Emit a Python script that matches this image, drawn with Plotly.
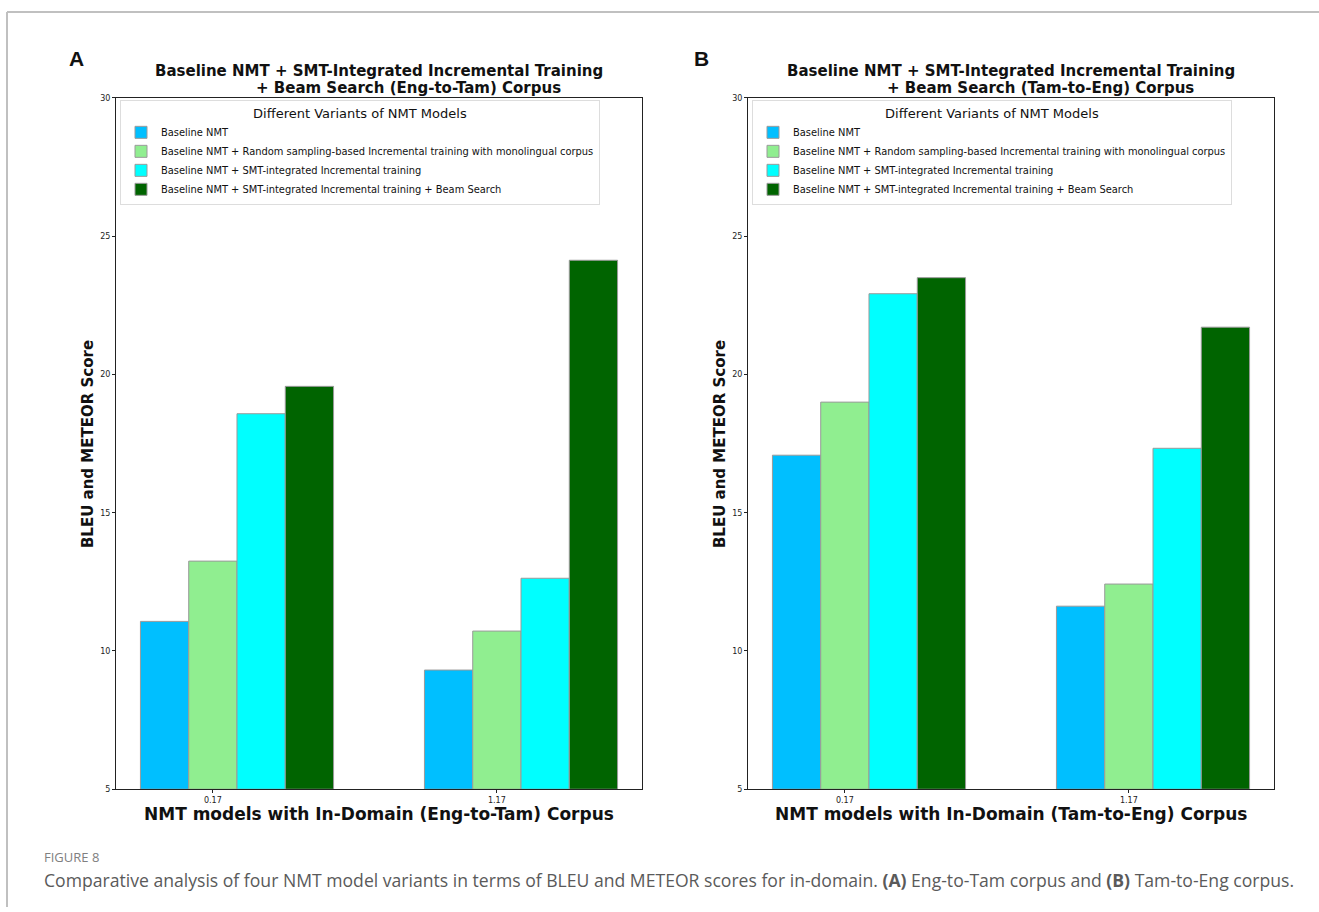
import plotly.graph_objects as go

# ---- data -------------------------------------------------------------
variants = [
    "Baseline NMT",
    "Baseline NMT + Random sampling-based Incremental training with monolingual corpus",
    "Baseline NMT + SMT-integrated Incremental training",
    "Baseline NMT + SMT-integrated Incremental training + Beam Search",
]
colors = ["#00BFFF", "#90EE90", "#00FFFF", "#006400"]

group_pos = [0, 1]
tick_vals = [0.17, 1.17]
tick_text = ["0.17", "1.17"]

# BLEU / METEOR scores, Eng-to-Tam corpus (one list per variant)
eng_tam_baseline = [11.07, 9.31]
eng_tam_random = [13.25, 10.72]
eng_tam_smt = [18.58, 12.63]
eng_tam_smt_beam = [19.57, 24.13]

# BLEU / METEOR scores, Tam-to-Eng corpus
tam_eng_baseline = [17.08, 11.62]
tam_eng_random = [19.00, 12.42]
tam_eng_smt = [22.92, 17.33]
tam_eng_smt_beam = [23.50, 21.71]

eng_tam = [eng_tam_baseline, eng_tam_random, eng_tam_smt, eng_tam_smt_beam]
tam_eng = [tam_eng_baseline, tam_eng_random, tam_eng_smt, tam_eng_smt_beam]

# ---- layout helpers ---------------------------------------------------
W, H = 1319, 912
BAR_W = 0.17
Y_FLOOR = 5


def px(x):
    return x / W


def py(y):
    # pixel row (from top) -> paper fraction, with a small vertical
    # correction for how the page ends up laid out
    y = (y - 3.1) / 0.9897
    return 1 - y / H


fig = go.Figure()

panels = [
    (eng_tam, "x", "y", "legend"),
    (tam_eng, "x2", "y2", "legend2"),
]
for data, xa, ya, lg in panels:
    for i, (name, col, vals) in enumerate(zip(variants, colors, data)):
        # bars rise from the axis floor, so their heights are value - floor
        fig.add_trace(go.Bar(
            x=[g + i * BAR_W for g in group_pos],
            y=[v - Y_FLOOR for v in vals],
            base=Y_FLOOR,
            width=BAR_W,
            name=name,
            customdata=vals,
            hovertemplate="%{customdata}<extra>%{fullData.name}</extra>",
            marker=dict(color=col, line=dict(color="#9a9a9a", width=1)),
            xaxis=xa, yaxis=ya, legend=lg,
        ))

axis_common = dict(
    showline=True, mirror=True, linecolor="#222", linewidth=1,
    ticks="outside", ticklen=3, tickcolor="#222",
    tickfont=dict(family="DejaVu Sans", size=8, color="#222"),
    showgrid=False, zeroline=False, fixedrange=True,
)

fig.update_layout(
    width=W, height=H, autosize=False,
    margin=dict(l=0, r=0, t=0, b=0),
    paper_bgcolor="white", plot_bgcolor="white",
    barmode="overlay",
    showlegend=True,
    xaxis=dict(domain=[px(116), px(642)], range=[-0.171, 1.681],
               tickvals=tick_vals, ticktext=tick_text, anchor="y", **axis_common),
    yaxis=dict(domain=[py(788), py(97)], range=[5, 30], dtick=5,
               anchor="x", **axis_common),
    xaxis2=dict(domain=[px(748), px(1274)], range=[-0.171, 1.681],
                tickvals=tick_vals, ticktext=tick_text, anchor="y2", **axis_common),
    yaxis2=dict(domain=[py(788), py(97)], range=[5, 30], dtick=5,
                anchor="x2", **axis_common),
)

legend_common = dict(
    xanchor="left", yanchor="top",
    bgcolor="rgba(255,255,255,0.9)", bordercolor="#dddddd", borderwidth=1,
    font=dict(family="DejaVu Sans", size=9.9, color="#111"),
    title=dict(text="Different Variants of NMT Models", side="top center",
               font=dict(family="DejaVu Sans", size=13, color="#111")),
    tracegroupgap=0, itemclick=False, itemdoubleclick=False,
)
fig.update_layout(
    legend=dict(x=px(120), y=py(99), **legend_common),
    legend2=dict(x=px(752), y=py(99), **legend_common),
)

# ---- text ---------------------------------------------------------------
title_font = dict(family="DejaVu Sans", size=15, color="#111")
ann = []


def text(x, y, s, font, xanchor="center", **kw):
    ann.append(dict(x=px(x), y=py(y), xref="paper", yref="paper", text=s,
                    showarrow=False, font=font, xanchor=xanchor,
                    yanchor="middle", **kw))


for cx, letter, lx, d in [(379, "A", 67, "Eng-to-Tam"), (1011, "B", 692, "Tam-to-Eng")]:
    text(lx, 58, "<b>%s</b>" % letter,
         dict(family="Liberation Sans", size=21, color="#111"), xanchor="left")
    text(cx, 70, "<b>Baseline NMT + SMT-Integrated Incremental Training</b>",
         title_font)
    text(cx + 29, 87, "<b>+ Beam Search (%s) Corpus</b>" % d, title_font)
    text(cx, 813, "<b>NMT models with In-Domain (%s) Corpus</b>" % d,
         dict(family="DejaVu Sans", size=17, color="#111"))
    text(cx - 291, 443, "<b>BLEU and METEOR Score</b>",
         dict(family="DejaVu Sans", size=15, color="#111"), textangle=-90)

text(42, 856, "FIGURE 8", dict(family="Open Sans", size=13, color="#808080"),
     xanchor="left")
text(42, 879,
     "Comparative analysis of four NMT model variants in terms of BLEU and METEOR "
     "scores for in-domain. <b>(A)</b> Eng-to-Tam corpus and <b>(B)</b> Tam-to-Eng corpus.",
     dict(family="Open Sans", size=17.6, color="#5a5a5a"), xanchor="left")

fig.update_layout(annotations=ann)

# thin page frame along the top and left edges
fig.update_layout(shapes=[
    dict(type="line", xref="paper", yref="paper", x0=px(7), x1=1, y0=py(11), y1=py(11),
         line=dict(color="#c0c0c0", width=2)),
    dict(type="line", xref="paper", yref="paper", x0=px(7), x1=px(7), y0=py(11), y1=0,
         line=dict(color="#c0c0c0", width=2)),
])

fig.write_html("out.html")
